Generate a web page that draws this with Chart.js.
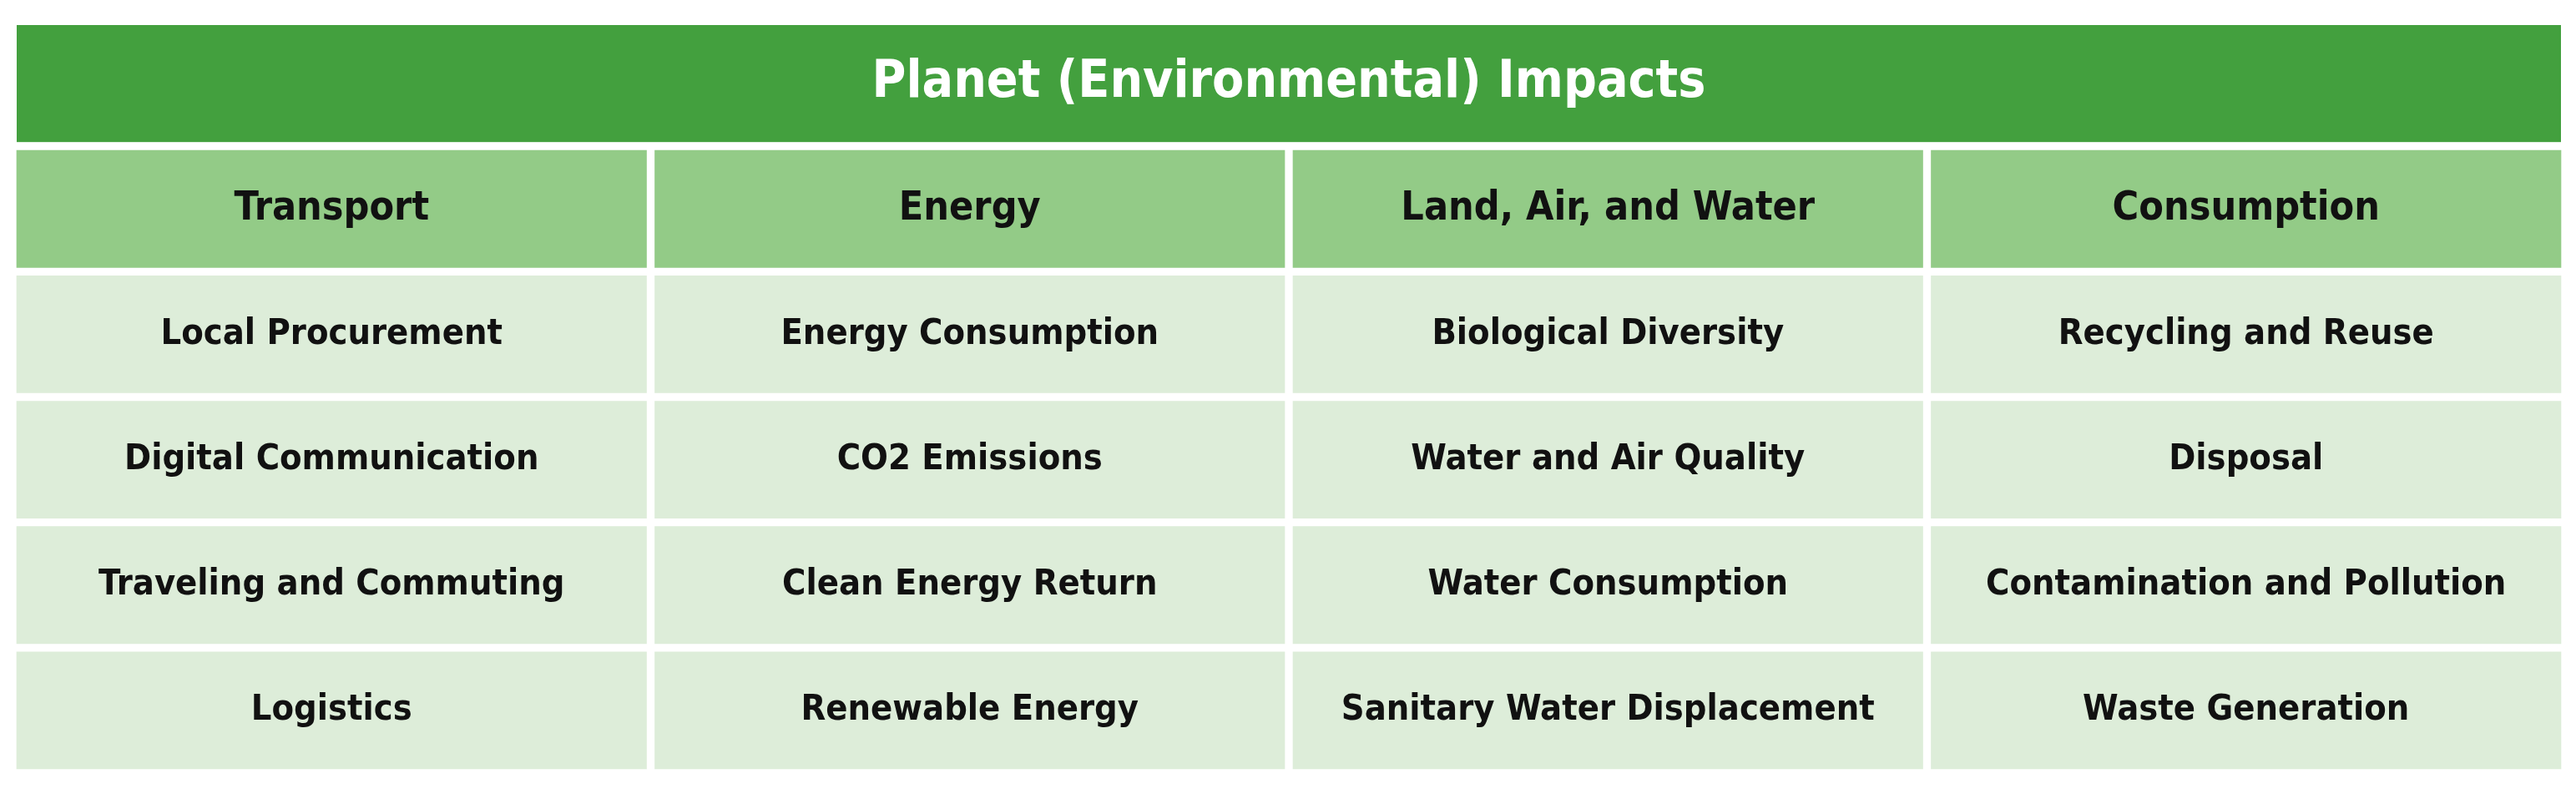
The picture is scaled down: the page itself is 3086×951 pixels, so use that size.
<!DOCTYPE html>
<html>
<head>
<meta charset="utf-8">
<script src="https://cdn.jsdelivr.net/npm/chart.js@4.4.1/dist/chart.umd.min.js"></script>
<style>
  html, body { margin: 0; padding: 0; background: #fff; }
  #wrap { width: 3086px; height: 951px; }
</style>
</head>
<body>
<div id="wrap"><canvas id="tabla"></canvas></div>
<script>
// Datos de la tabla
var titulo = 'Planet (Environmental) Impacts';
var columnas = ['Transport', 'Energy', 'Land, Air, and Water', 'Consumption'];
var filas = [
    ['Local Procurement', 'Energy Consumption', 'Biological Diversity', 'Recycling and Reuse'],
    ['Digital Communication', 'CO2 Emissions', 'Water and Air Quality', 'Disposal'],
    ['Traveling and Commuting', 'Clean Energy Return', 'Water Consumption', 'Contamination and Pollution'],
    ['Logistics', 'Renewable Energy', 'Sanitary Water Displacement', 'Waste Generation']
];

var fuente = '"DejaVu Sans Condensed", "DejaVu Sans", sans-serif';

// Cada fila de la tabla es un dataset de barras flotantes [inicio, fin]
function filaDataset(textos, indice, color) {
    return {
        data: textos.map(function () { return [indice, indice + 1]; }),
        textos: textos,
        backgroundColor: color,
        borderColor: '#ffffff',
        borderWidth: 5,
        borderSkipped: false,
        grouped: false,
        barPercentage: 1,
        categoryPercentage: 1,
        fontSize: indice === 1 ? 48 : 43
    };
}

var datasets = [filaDataset(columnas, 1, '#93cb87')];
filas.forEach(function (f, i) {
    datasets.push(filaDataset(f, i + 2, '#ddedd9'));
});

// Plugin: barra del título y textos de las celdas
var plugTabla = {
    id: 'plugTabla',
    beforeDatasetsDraw: function (chart) {
        var ctx = chart.ctx, xs = chart.scales.x, ys = chart.scales.y;
        var y0 = ys.getPixelForValue(0), y1 = ys.getPixelForValue(1);
        ctx.save();
        ctx.fillStyle = '#43a03e';
        ctx.fillRect(xs.left + 5, y0 + 5, xs.right - xs.left - 10, y1 - y0 - 10);
        ctx.fillStyle = '#ffffff';
        ctx.font = 'bold 62px ' + fuente;
        ctx.textAlign = 'center';
        ctx.textBaseline = 'middle';
        ctx.fillText(titulo, (xs.left + xs.right) / 2, (y0 + y1) / 2);
        ctx.restore();
    },
    afterDatasetsDraw: function (chart) {
        var ctx = chart.ctx;
        ctx.save();
        ctx.fillStyle = '#111111';
        ctx.textAlign = 'center';
        ctx.textBaseline = 'middle';
        chart.data.datasets.forEach(function (ds, i) {
            ctx.font = 'bold ' + ds.fontSize + 'px ' + fuente;
            chart.getDatasetMeta(i).data.forEach(function (bar, j) {
                var p = bar.getProps(['x', 'y', 'base'], true);
                ctx.fillText(ds.textos[j], p.x, (p.y + p.base) / 2);
            });
        });
        ctx.restore();
    }
};

var chartTabla = new Chart(document.getElementById('tabla').getContext('2d'), {
    type: 'bar',
    data: { labels: columnas, datasets: datasets },
    options: {
        responsive: true,
        maintainAspectRatio: false,
        animation: false,
        layout: { padding: { top: 25, bottom: 25, left: 15, right: 13 } },
        plugins: { legend: { display: false }, tooltip: { enabled: false } },
        scales: {
            x: { display: false },
            y: { display: false, min: 0, max: 6, reverse: true }
        }
    },
    plugins: [plugTabla]
});
</script>
</body>
</html>
